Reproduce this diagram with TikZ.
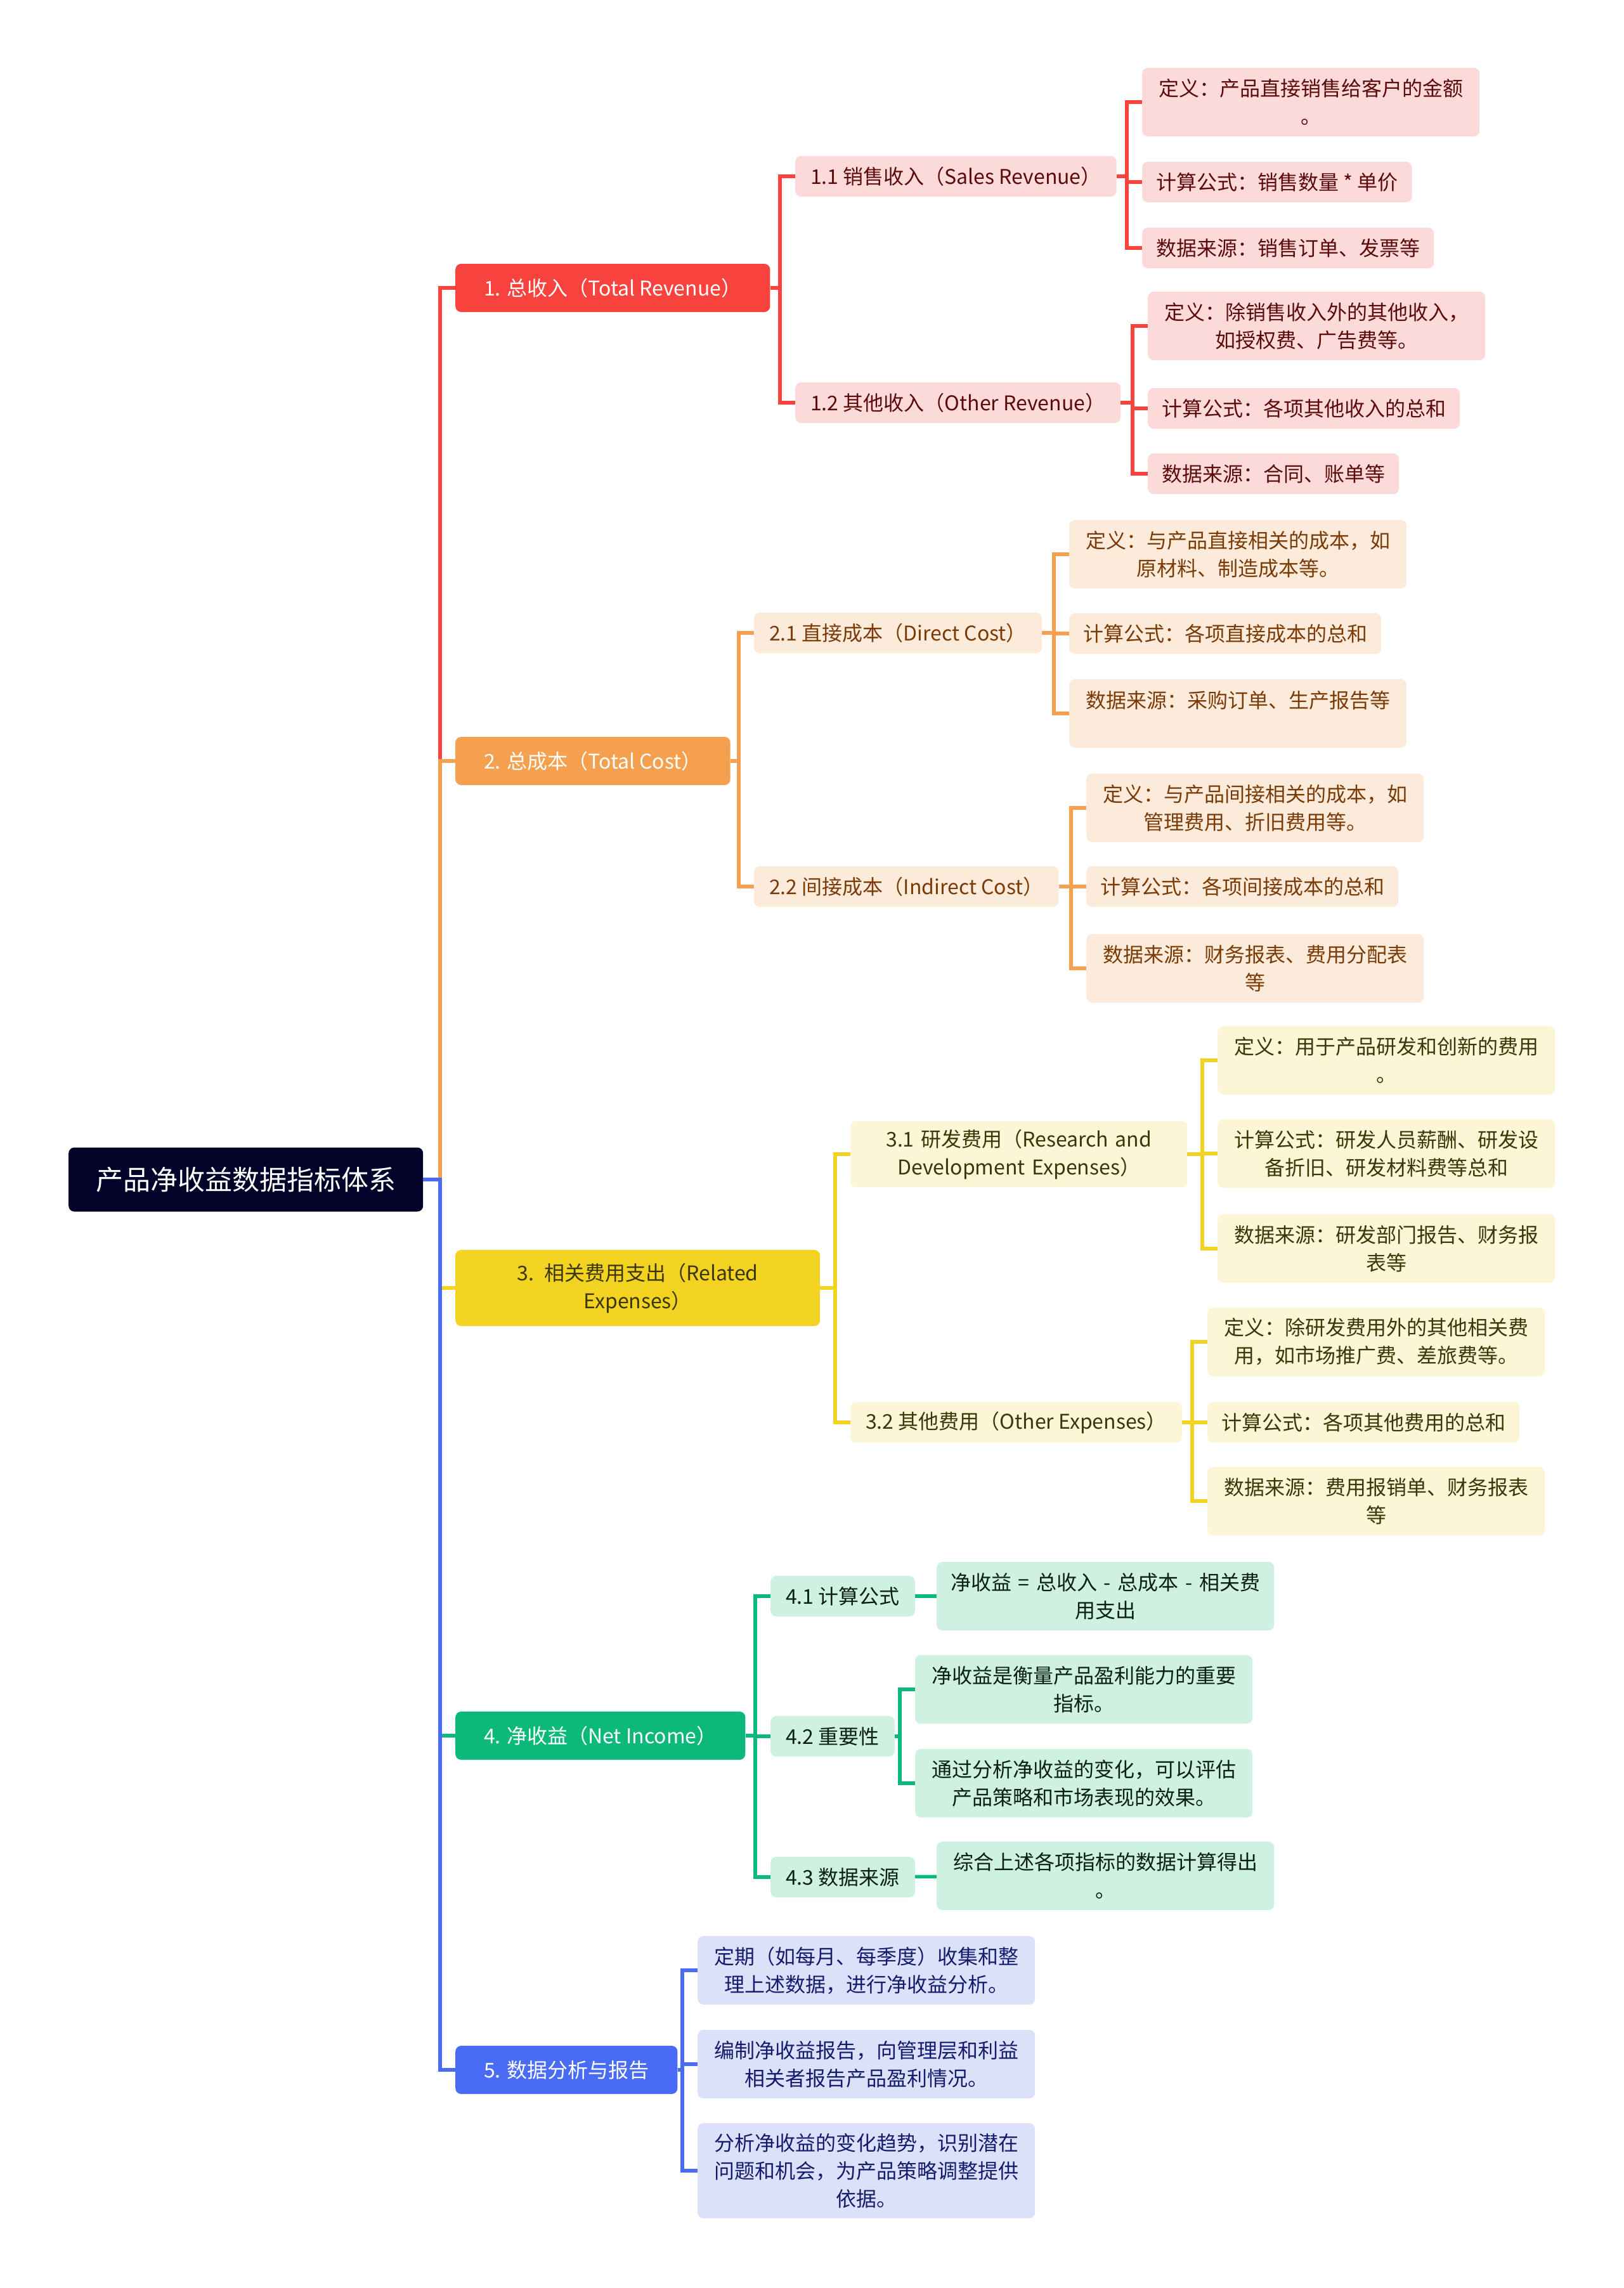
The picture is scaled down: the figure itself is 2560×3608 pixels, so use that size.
\documentclass[tikz,border=0pt]{standalone}
\usepackage{fontspec}
\setmainfont{Noto Sans CJK SC}
\definecolor{rootc}{HTML}{03032A}
\definecolor{redc}{HTML}{F7423E}
\definecolor{redl}{HTML}{FCDADA}
\definecolor{redt}{HTML}{5C0B0B}
\definecolor{orac}{HTML}{F5A04E}
\definecolor{oral}{HTML}{FCEBDB}
\definecolor{orat}{HTML}{7A3B06}
\definecolor{yelc}{HTML}{F2D322}
\definecolor{yell}{HTML}{FCF6D6}
\definecolor{yelt}{HTML}{3D3608}
\definecolor{grnc}{HTML}{0DB97A}
\definecolor{grnl}{HTML}{CEF1E2}
\definecolor{grnt}{HTML}{0B1F15}
\definecolor{bluc}{HTML}{4A6CF5}
\definecolor{blul}{HTML}{DCE1FA}
\definecolor{blut}{HTML}{151C6B}

\begin{document}
\begin{tikzpicture}[
    x=1pt,y=-1pt,
    box/.style={rectangle,rounded corners=9pt,anchor=west,align=center,inner ysep=4pt,font=\fontsize{32}{44}\selectfont},
    rootbox/.style={box,fill=rootc,text=white,inner xsep=43pt,minimum height=101pt,font=\fontsize{43}{52}\selectfont},
    mainbox/.style={box,inner xsep=45pt,minimum height=76pt},
    subbox/.style={box,inner xsep=24pt,minimum height=64pt},
    leaf/.style={box,inner xsep=22pt,minimum height=64pt},
    twoline/.style={minimum height=108pt,text width=488pt},
    redleaf/.style={leaf,fill=redl,text=redt},
    oraleaf/.style={leaf,fill=oral,text=orat},
    yelleaf/.style={leaf,fill=yell,text=yelt},
    grnleaf/.style={leaf,fill=grnl,text=grnt},
    bluleaf/.style={leaf,fill=blul,text=blut},
    link/.style={line width=5.5pt}
]
    \useasboundingbox[fill=white] (0,0) rectangle (2560,3608);

    \node[rootbox] (root) at (108,1860) {产品净收益数据指标体系};

    \node[mainbox,fill=redc,text=white] (n1) at (718,454) {1. 总收入（Total Revenue）};
    \node[mainbox,fill=orac,text=white] (n2) at (718,1200) {2. 总成本（Total Cost）};
    \node[mainbox,fill=yelc,text=yelt,minimum height=120pt,text width=485pt] (n3) at (718,2031) {3. 相关费用支出（Related\\Expenses）};
    \node[mainbox,fill=grnc,text=white] (n4) at (718,2737) {4. 净收益（Net Income）};
    \node[mainbox,fill=bluc,text=white] (n5) at (718,3264) {5. 数据分析与报告};

    \node[subbox,fill=redl,text=redt] (n11) at (1254,278) {1.1 销售收入（Sales Revenue）};
    \node[subbox,fill=redl,text=redt] (n12) at (1254,635) {1.2 其他收入（Other Revenue）};
    \node[redleaf,twoline] (n11a) at (1801,161) {定义：产品直接销售给客户的金额\\。};
    \node[redleaf] (n11b) at (1801,287) {计算公式：销售数量 * 单价};
    \node[redleaf] (n11c) at (1801,391) {数据来源：销售订单、发票等};
    \node[redleaf,twoline] (n12a) at (1810,514) {定义：除销售收入外的其他收入，\\如授权费、广告费等。};
    \node[redleaf] (n12b) at (1810,644) {计算公式：各项其他收入的总和};
    \node[redleaf] (n12c) at (1810,747) {数据来源：合同、账单等};

    \node[subbox,fill=oral,text=orat] (n21) at (1189,998) {2.1 直接成本（Direct Cost）};
    \node[subbox,fill=oral,text=orat] (n22) at (1189,1398) {2.2 间接成本（Indirect Cost）};
    \node[oraleaf,twoline] (n21a) at (1686,874) {定义：与产品直接相关的成本，如\\原材料、制造成本等。};
    \node[oraleaf] (n21b) at (1686,999) {计算公式：各项直接成本的总和};
    \node[oraleaf,twoline] (n21c) at (1686,1125) {数据来源：采购订单、生产报告等\\~};
    \node[oraleaf,twoline] (n22a) at (1713,1274) {定义：与产品间接相关的成本，如\\管理费用、折旧费用等。};
    \node[oraleaf] (n22b) at (1713,1398) {计算公式：各项间接成本的总和};
    \node[oraleaf,twoline] (n22c) at (1713,1527) {数据来源：财务报表、费用分配表\\等};

    \node[subbox,fill=yell,text=yelt,minimum height=104pt,text width=483pt] (n31) at (1341,1820) {3.1 研发费用（Research and\\Development Expenses）};
    \node[subbox,fill=yell,text=yelt] (n32) at (1341,2243) {3.2 其他费用（Other Expenses）};
    \node[yelleaf,twoline] (n31a) at (1920,1672) {定义：用于产品研发和创新的费用\\。};
    \node[yelleaf,twoline] (n31b) at (1920,1819) {计算公式：研发人员薪酬、研发设\\备折旧、研发材料费等总和};
    \node[yelleaf,twoline] (n31c) at (1920,1969) {数据来源：研发部门报告、财务报\\表等};
    \node[yelleaf,twoline] (n32a) at (1904,2116) {定义：除研发费用外的其他相关费\\用，如市场推广费、差旅费等。};
    \node[yelleaf] (n32b) at (1904,2243) {计算公式：各项其他费用的总和};
    \node[yelleaf,twoline] (n32c) at (1904,2367) {数据来源：费用报销单、财务报表\\等};

    \node[subbox,fill=grnl,text=grnt] (n41) at (1215,2517) {4.1 计算公式};
    \node[subbox,fill=grnl,text=grnt] (n42) at (1215,2738) {4.2 重要性};
    \node[subbox,fill=grnl,text=grnt] (n43) at (1215,2960) {4.3 数据来源};
    \node[grnleaf,twoline] (n41a) at (1477,2517) {净收益 = 总收入 - 总成本 - 相关费\\用支出};
    \node[grnleaf,twoline] (n42a) at (1443,2664) {净收益是衡量产品盈利能力的重要\\指标。};
    \node[grnleaf,twoline] (n42b) at (1443,2812) {通过分析净收益的变化，可以评估\\产品策略和市场表现的效果。};
    \node[grnleaf,twoline] (n43a) at (1477,2958) {综合上述各项指标的数据计算得出\\。};

    \node[bluleaf,twoline] (n5a) at (1100,3107) {定期（如每月、每季度）收集和整\\理上述数据，进行净收益分析。};
    \node[bluleaf,twoline] (n5b) at (1100,3255) {编制净收益报告，向管理层和利益\\相关者报告产品盈利情况。};
    \node[bluleaf,twoline,minimum height=150pt] (n5c) at (1100,3423) {分析净收益的变化趋势，识别潜在\\问题和机会，为产品策略调整提供\\依据。};

    \foreach \c/\k in {n1/redc,n2/orac,n3/yelc,n4/grnc,n5/bluc}
        \draw[link,\k] (root.east) -| ([xshift=-24pt]\c.west) [rounded corners=12pt] -- (\c.west);

    \foreach \p/\c/\k in {n1/n11/redc,n1/n12/redc,n11/n11a/redc,n11/n11b/redc,n11/n11c/redc,
        n12/n12a/redc,n12/n12b/redc,n12/n12c/redc,
        n2/n21/orac,n2/n22/orac,n21/n21a/orac,n21/n21b/orac,n21/n21c/orac,
        n22/n22a/orac,n22/n22b/orac,n22/n22c/orac,
        n3/n31/yelc,n3/n32/yelc,n31/n31a/yelc,n31/n31b/yelc,n31/n31c/yelc,
        n32/n32a/yelc,n32/n32b/yelc,n32/n32c/yelc,
        n4/n41/grnc,n4/n42/grnc,n4/n43/grnc,n42/n42a/grnc,n42/n42b/grnc,
        n5/n5a/bluc,n5/n5b/bluc,n5/n5c/bluc}
        \draw[link,\k] (\p.east) -| ([xshift=-24pt]\c.west) [rounded corners=12pt] -- (\c.west);

    \draw[link,grnc] (n41) -- (n41a);
    \draw[link,grnc] (n43) -- (n43a);
\end{tikzpicture}
\end{document}
